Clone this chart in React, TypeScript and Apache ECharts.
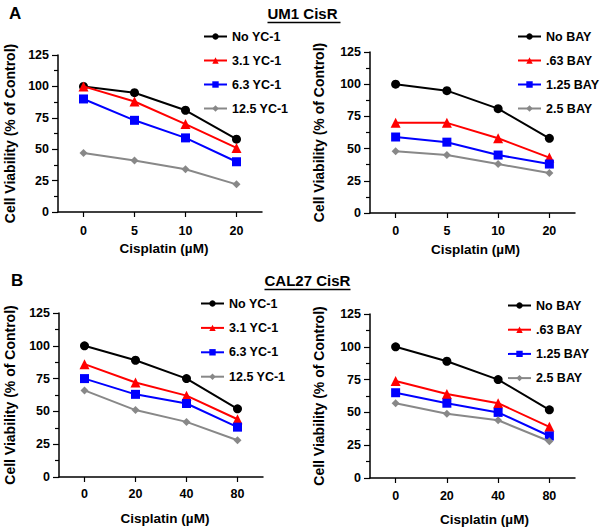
import React, { useEffect, useRef } from "react";
import * as echarts from "echarts";

const umDoses = ["0", "5", "10", "20"];
const calDoses = ["0", "20", "40", "80"];

const ycNames = ["No YC-1", "3.1 YC-1", "6.3 YC-1", "12.5 YC-1"];
const bayNames = ["No BAY", ".63 BAY", "1.25 BAY", "2.5 BAY"];

// UM1 CisR, YC-1
const umYcNone = [100, 95, 81, 58];
const umYc31 = [100, 88, 70, 51];
const umYc63 = [90, 73, 59, 40];
const umYc125 = [47, 41, 34, 22];

// UM1 CisR, BAY
const umBayNone = [100, 95, 81, 58];
const umBay063 = [70, 70, 58, 43];
const umBay125 = [59, 55, 45, 38];
const umBay25 = [48, 45, 38, 31];

// CAL27 CisR, YC-1
const calYcNone = [100, 89, 75, 52];
const calYc31 = [86, 72, 62, 44];
const calYc63 = [75, 63, 56, 38];
const calYc125 = [66, 51, 42, 28];

// CAL27 CisR, BAY
const calBayNone = [100, 89, 75, 52];
const calBay063 = [74, 64, 57, 39];
const calBay125 = [65, 57, 50, 32];
const calBay25 = [57, 49, 44, 28];

const yMin = 0;
const yMax = 125;
const yInterval = 25;

const FONT = "Arial, 'Liberation Sans', Helvetica, sans-serif";

const styles = [
  { color: "#000000", symbol: "circle", symbolSize: 9 },
  { color: "#ff0000", symbol: "triangle", symbolSize: 10 },
  { color: "#0000ff", symbol: "rect", symbolSize: 9 },
  { color: "#888888", symbol: "diamond", symbolSize: 8 },
];

export default function App() {
  const ref = useRef<HTMLDivElement>(null);
  useEffect(() => {
    if (!ref.current) return;
    const chart = echarts.init(ref.current, null, { renderer: "svg" });

    const grids = [
      { left: 58, top: 55, width: 204, height: 157 },
      { left: 370, top: 52, width: 205, height: 161 },
      { left: 59, top: 313, width: 204, height: 164 },
      { left: 370, top: 314, width: 205, height: 164 },
    ];
    const xCats = [umDoses, umDoses, calDoses, calDoses];
    const xLabelMargin = [12, 11, 10, 11];
    const xNameGap = [29, 29, 34, 34];
    const xNamePad = [[0, 0, 0, 8], [0, 0, 0, 6], [0, 0, 0, 8], [0, 0, 0, 24]];
    const yNameGap = [41, 44, 42, 44];

    const panelData = [
      [umYcNone, umYc31, umYc63, umYc125],
      [umBayNone, umBay063, umBay125, umBay25],
      [calYcNone, calYc31, calYc63, calYc125],
      [calBayNone, calBay063, calBay125, calBay25],
    ];
    const panelNames = [ycNames, bayNames, ycNames, bayNames];

    const legendPos = [
      { left: 198, top: 25, gap: 11 },
      { left: 512, top: 25, gap: 11 },
      { left: 195, top: 292, gap: 11.4 },
      { left: 502, top: 294, gap: 11.2 },
    ];

    const axisLineStyle = { color: "#000", width: 1.5 };
    const boldText = { fontFamily: FONT, fontWeight: "bold" as const, fontSize: 12, color: "#000" };

    const xAxis = grids.map((_, i) => ({
      type: "category",
      gridIndex: i,
      data: xCats[i],
      boundaryGap: true,
      axisLine: { show: true, lineStyle: axisLineStyle },
      axisTick: { show: true, alignWithLabel: true, length: 5, lineStyle: { color: "#000", width: 1.2 } },
      axisLabel: { ...boldText, fontSize: 12.5, margin: xLabelMargin[i] },
      splitLine: { show: false },
      name: "Cisplatin (µM)",
      nameLocation: "middle",
      nameGap: xNameGap[i],
      nameTextStyle: { ...boldText, fontSize: 13.5, padding: xNamePad[i] },
    }));

    const yAxis = grids.map((_, i) => ({
      type: "value",
      gridIndex: i,
      min: yMin,
      max: yMax,
      interval: yInterval,
      axisLine: { show: true, lineStyle: axisLineStyle },
      axisTick: { show: true, length: 6, lineStyle: { color: "#000", width: 1.2 } },
      minorTick: { show: true, splitNumber: 2, length: 4, lineStyle: { color: "#000", width: 1.2 } },
      axisLabel: { ...boldText, fontSize: 12.5, margin: 9 },
      splitLine: { show: false },
      minorSplitLine: { show: false },
      name: "Cell Viability (% of Control)",
      nameLocation: "middle",
      nameGap: yNameGap[i],
      nameTextStyle: { ...boldText, fontSize: 14 },
    }));

    const series: any[] = [];
    panelData.forEach((vals, p) => {
      vals.forEach((arr, k) => {
        const st = styles[k];
        series.push({
          type: "line",
          name: panelNames[p][k],
          xAxisIndex: p,
          yAxisIndex: p,
          data: arr,
          symbol: st.symbol,
          symbolSize: st.symbolSize,
          showAllSymbol: true,
          lineStyle: { color: st.color, width: 2 },
          itemStyle: { color: st.color },
          z: 2 + k,
        });
      });
    });

    const legend = legendPos.map((pos, i) => ({
      orient: "vertical",
      left: pos.left,
      top: pos.top,
      itemWidth: 23,
      itemHeight: 8,
      itemGap: pos.gap,
      selectedMode: false,
      textStyle: { ...boldText, fontSize: 12.5 },
      data: panelNames[i],
    }));

    const titleText = { fontFamily: FONT, fontWeight: "bold", fill: "#000" };

    chart.setOption({
      animation: false,
      backgroundColor: "#fff",
      grid: grids.map((g) => ({ ...g, containLabel: false })),
      xAxis,
      yAxis,
      legend,
      series,
      graphic: [
        { type: "text", left: 9, top: 5, style: { ...titleText, text: "A", fontSize: 17 } },
        { type: "text", left: 11, top: 272, style: { ...titleText, text: "B", fontSize: 17 } },
        {
          type: "group",
          left: 265,
          top: 6,
          children: [
            { type: "text", x: 0, y: 0, style: { ...titleText, text: "UM1 CisR", fontSize: 15 } },
            { type: "line", shape: { x1: 0, y1: 16.5, x2: 73, y2: 16.5 }, style: { stroke: "#000", lineWidth: 1.5 } },
          ],
        },
        {
          type: "group",
          left: 262,
          top: 273,
          children: [
            { type: "text", x: 0, y: 0, style: { ...titleText, text: "CAL27 CisR", fontSize: 15 } },
            { type: "line", shape: { x1: 0, y1: 16.5, x2: 86, y2: 16.5 }, style: { stroke: "#000", lineWidth: 1.5 } },
          ],
        },
      ],
    });

    return () => chart.dispose();
  }, []);

  return (
    <div
      ref={ref}
      style={{ position: "absolute", left: 0, top: 0, width: 600, height: 527, background: "#fff" }}
    />
  );
}
